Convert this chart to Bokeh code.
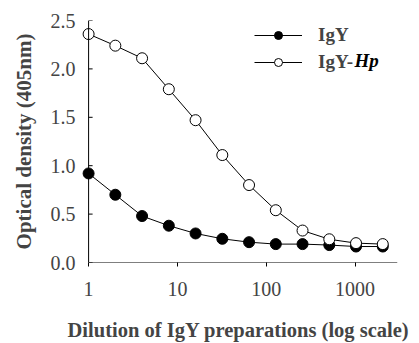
from bokeh.plotting import figure
from bokeh.models import (FixedTicker, PrintfTickFormatter, Legend, LegendItem,
                          Range1d, Label, Span)
from bokeh.embed import file_html
from bokeh.resources import INLINE

# ---- data ----
dilution = [1, 2, 4, 8, 16, 32, 64, 128, 256, 512, 1024, 2048]
igy = [0.92, 0.70, 0.48, 0.38, 0.30, 0.245, 0.21, 0.19, 0.19, 0.18, 0.165, 0.165]
igy_hp = [2.36, 2.24, 2.11, 1.79, 1.47, 1.11, 0.80, 0.54, 0.33, 0.24, 0.20, 0.19]
x_ticks = [1, 10, 100, 1000]
y_ticks = [0.0, 0.5, 1.0, 1.5, 2.0, 2.5]

FONT = "Liberation Serif"
X_START, X_END = 0.79, 3000

p = figure(width=419, height=343, x_axis_type="log",
           x_range=Range1d(X_START, X_END), y_range=Range1d(0, 2.5),
           output_backend="svg", toolbar_location=None,
           min_border_left=79, min_border_right=22,
           min_border_top=20, min_border_bottom=78)
p.outline_line_color = None
p.grid.visible = False
p.background_fill_color = "white"

# x axis
xa = p.xaxis[0]
xa.ticker = FixedTicker(ticks=x_ticks)
xa.formatter = PrintfTickFormatter(format="%d")
xa.major_tick_in = 0
xa.major_tick_out = 4
xa.minor_tick_line_color = None
xa.axis_line_color = None
xa.major_label_text_font = FONT
xa.major_label_text_font_size = "20px"
xa.major_label_standoff = 15
xa.axis_label = "Dilution of IgY preparations (log scale)"
xa.axis_label_text_font = FONT
xa.axis_label_text_font_style = "bold"
xa.axis_label_text_font_size = "20.5px"
xa.axis_label_standoff = 20

# y axis (labels at frame edge; line & ticks drawn at x = 1)
ya = p.yaxis[0]
ya.ticker = FixedTicker(ticks=y_ticks)
ya.formatter = PrintfTickFormatter(format="%.1f")
ya.axis_line_color = None
ya.major_tick_line_color = None
ya.major_tick_in = 0
ya.major_tick_out = 0
ya.minor_tick_line_color = None
ya.major_label_text_font = FONT
ya.major_label_text_font_size = "20px"
ya.major_label_standoff = 4
ya.axis_label = "Optical density (405nm)"
ya.axis_label_text_font = FONT
ya.axis_label_text_font_style = "bold"
ya.axis_label_text_font_size = "21px"
ya.axis_label_standoff = 12

p.add_layout(Span(location=x_ticks[0], dimension="height", line_color="black",
                  line_width=1))
p.ray(x=[x_ticks[0]] * len(y_ticks), y=y_ticks, length=4, length_units="screen",
      angle=0, line_color="black", line_width=1)

# x axis line starting at the y axis
p.segment(x0=[x_ticks[0]], y0=[y_ticks[0]], x1=[X_END], y1=[y_ticks[0]],
          line_color="black", line_width=1)

# series
l1 = p.line(dilution, igy, line_color="black", line_width=1)
s1 = p.scatter(dilution, igy, size=11, marker="circle", fill_color="black",
               line_color="black")
l2 = p.line(dilution, igy_hp, line_color="black", line_width=1)
s2 = p.scatter(dilution, igy_hp, size=11, marker="circle", fill_color="white",
               line_color="black", line_width=1)

legend = Legend(items=[LegendItem(label="IgY", renderers=[l1, s1]),
                       LegendItem(label="IgY-", renderers=[l2, s2])],
                location=(175, 189), orientation="vertical")
legend.background_fill_alpha = 0
legend.border_line_color = None
legend.padding = 0
legend.margin = 0
legend.spacing = 5
legend.glyph_width = 48
legend.glyph_height = 20
legend.label_height = 20
legend.label_standoff = 16
legend.label_text_font = FONT
legend.label_text_font_style = "bold"
legend.label_text_font_size = "19px"
p.add_layout(legend, "center")

hp = Label(x=985, y=2.09, text="Hp", text_font=FONT, text_font_style="bold italic",
           text_font_size="19px", text_baseline="middle", text_color="black")
p.add_layout(hp)

open("out.html", "w").write(file_html(p, INLINE))
